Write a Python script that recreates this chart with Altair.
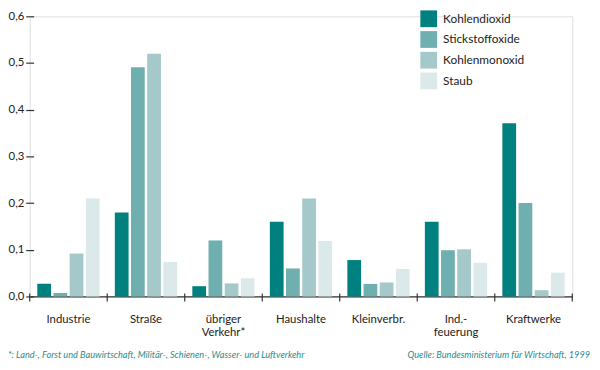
import altair as alt
import pandas as pd

categories = ["Industrie", "Straße", "übriger|Verkehr*", "Haushalte", "Kleinverbr.", "Ind.-|feuerung", "Kraftwerke"]
series = ["Kohlendioxid", "Stickstoffoxide", "Kohlenmonoxid", "Staub"]
kohlendioxid = [0.027, 0.18, 0.022, 0.16, 0.078, 0.16, 0.371]
stickstoffoxide = [0.0075, 0.491, 0.12, 0.06, 0.027, 0.099, 0.2]
kohlenmonoxid = [0.092, 0.52, 0.028, 0.21, 0.03, 0.101, 0.0135]
staub = [0.21, 0.074, 0.039, 0.119, 0.059, 0.072, 0.051]
colors = ["#00807f", "#70afaf", "#a5c9ca", "#dce9ea"]
y_ticks = [0, 0.1, 0.2, 0.3, 0.4, 0.5, 0.6]
note_left = "*: Land-, Forst und Bauwirtschaft, Militär-, Schienen-, Wasser- und Luftverkehr"
note_right = "Quelle: Bundesministerium für Wirtschaft, 1999"

FONT = "Lato"
W, H = 550, 284

rows = []
for s, vals in zip(series, [kohlendioxid, stickstoffoxide, kohlenmonoxid, staub]):
    for c, v in zip(categories, vals):
        rows.append({"cat": c, "serie": s, "wert": v})
df = pd.DataFrame(rows)
cats_df = pd.DataFrame({"cat": categories})
first_df = pd.DataFrame({"cat": categories[:1]})

xscale = alt.Scale(domain=categories, paddingInner=0, paddingOuter=0)

bars = alt.Chart(df).mark_bar().encode(
    x=alt.X("cat:N", scale=xscale, sort=categories, title=None,
            axis=alt.Axis(labelAngle=0, ticks=False, domain=True, domainColor="#333", domainWidth=1.2,
                          labelExpr="split(datum.label, '|')", labelPadding=17,
                          labelFontSize=11.5, labelColor="#222", labelFont=FONT,
                          labelLineHeight=14, labelBaseline="top", grid=False)),
    xOffset=alt.XOffset("serie:N", sort=series,
                        scale=alt.Scale(paddingInner=0.15, paddingOuter=0.47)),
    y=alt.Y("wert:Q", scale=alt.Scale(domain=[0, 0.6], nice=False), title=None,
            axis=alt.Axis(values=y_ticks, domain=False, domainColor="white", grid=False,
                          tickSize=8, tickWidth=1.2, tickColor="#333", offset=-4, labelPadding=2,
                          labelExpr="replace(format(datum.value, '.1f'), '.', ',')",
                          labelFontSize=11.5, labelColor="#222", labelFont=FONT)),
    color=alt.Color("serie:N", sort=series, scale=alt.Scale(domain=series, range=colors),
                    legend=alt.Legend(title=None, orient="none", legendX=396, legendY=-6,
                                      symbolType="square", symbolSize=289, symbolStrokeWidth=0,
                                      symbolOpacity=1, rowPadding=4, labelFontSize=12,
                                      labelFont=FONT, labelColor="#222", labelOffset=6)),
)

tick_end = alt.Chart(cats_df).mark_rule(color="#333", strokeWidth=1.2).encode(
    x=alt.X("cat:N", scale=xscale, sort=categories, bandPosition=1),
    y=alt.value(H - 3), y2=alt.value(H + 5),
)
tick_start = alt.Chart(first_df).mark_rule(color="#333", strokeWidth=1.2).encode(
    x=alt.X("cat:N", scale=xscale, sort=categories, bandPosition=0),
    y=alt.value(H - 3), y2=alt.value(H + 5),
)

notes = pd.DataFrame({"t": [note_left]})
note_l = alt.Chart(notes).mark_text(
    align="left", baseline="alphabetic", font=FONT, fontSize=9.3, fontStyle="italic",
    color="#2a8c8c").encode(x=alt.value(-22), y=alt.value(H + 62), text="t:N")
notes_r = pd.DataFrame({"t": [note_right]})
note_r = alt.Chart(notes_r).mark_text(
    align="right", baseline="alphabetic", font=FONT, fontSize=9.3, fontStyle="italic",
    color="#2a8c8c").encode(x=alt.value(W + 18), y=alt.value(H + 62), text="t:N")

chart = alt.layer(bars, tick_end, tick_start, note_l, note_r).properties(
    width=W, height=H,
    autosize=alt.AutoSizeParams(type="none"),
    padding={"left": 22, "top": 6, "right": 20, "bottom": 64},
).configure_view(strokeWidth=0).configure(background="white")

chart.save("out.html", embed_options={"renderer": "svg", "actions": False})
